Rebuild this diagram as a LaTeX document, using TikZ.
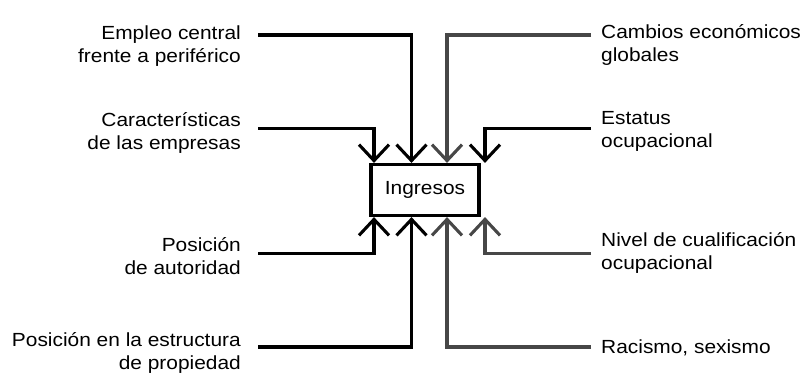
\documentclass[tikz,border=0pt]{standalone}
\usepackage{fontspec}
\setmainfont[FakeStretch=1.1]{Liberation Sans}
\usetikzlibrary{arrows.meta}
\begin{document}
\begin{tikzpicture}[x=1pt,y=1pt,
  lbl/.style={inner sep=0pt, font=\fontsize{19}{23}\selectfont},
  conn/.style={line width=3.1pt, -{Straight Barb[length=16pt,width=30pt]}},
  faint/.style={draw=black!72},
  boxnode/.style={draw, line width=3.2pt, minimum width=108pt, minimum height=51pt,
    inner sep=0pt, font=\fontsize{19}{23}\selectfont}]
\useasboundingbox (0,0) rectangle (807,373);
\node[boxnode] (ing) at (425,183) {Ingresos};
% left labels
\node[lbl, anchor=base east] (emp) at (241,333.5)
  {\begin{tabular}[t]{@{}r@{}}Empleo central\\frente a periférico\end{tabular}};
\node[lbl, anchor=base east] (car) at (241,246.3)
  {\begin{tabular}[t]{@{}r@{}}Características\\de las empresas\end{tabular}};
\node[lbl, anchor=base east] (aut) at (241,121.3)
  {\begin{tabular}[t]{@{}r@{}}Posición\\de autoridad\end{tabular}};
\node[lbl, anchor=base east] (pro) at (241,26.3)
  {\begin{tabular}[t]{@{}r@{}}Posición en la estructura\\de propiedad\end{tabular}};
% right labels
\node[lbl, anchor=base west] (cam) at (601,334)
  {\begin{tabular}[t]{@{}l@{}}Cambios económicos\\globales\end{tabular}};
\node[lbl, anchor=base west] (est) at (601,248)
  {\begin{tabular}[t]{@{}l@{}}Estatus\\ocupacional\end{tabular}};
\node[lbl, anchor=base west] (niv) at (601,126.3)
  {\begin{tabular}[t]{@{}l@{}}Nivel de cualificación\\ocupacional\end{tabular}};
\node[lbl, anchor=base west] (rac) at (601,20)
  {Racismo, sexismo};
% connector start points
\coordinate (empS) at (258,338);
\coordinate (carS) at (258,244.5);
\coordinate (autS) at (258,119.5);
\coordinate (proS) at (258,26);
\coordinate (camS) at (591,338);
\coordinate (estS) at (591,244.5);
\coordinate (nivS) at (591,119.5);
\coordinate (racS) at (591,26);
% columns
\coordinate (c1) at (374,0);
\coordinate (c2) at (411.5,0);
\coordinate (c3) at (447,0);
\coordinate (c4) at (485,0);
% connectors
\draw[conn] (empS) -| (c2 |- ing.north);
\draw[conn] (carS) -| (c1 |- ing.north);
\draw[conn, faint] (camS) -| (c3 |- ing.north);
\draw[conn] (estS) -| (c4 |- ing.north);
\draw[conn] (autS) -| (c1 |- ing.south);
\draw[conn] (proS) -| (c2 |- ing.south);
\draw[conn, faint] (racS) -| (c3 |- ing.south);
\draw[conn, faint] (nivS) -| (c4 |- ing.south);
\end{tikzpicture}
\end{document}
